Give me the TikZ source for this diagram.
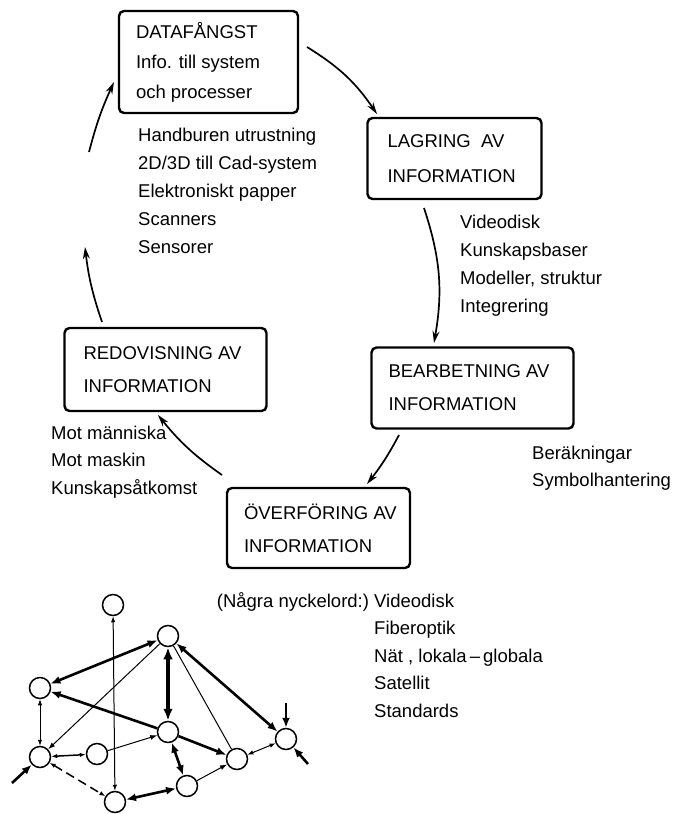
\documentclass[tikz,border=0pt]{standalone}
\usepackage{fontspec}
\setmainfont{Liberation Sans}
\usetikzlibrary{arrows.meta}
\begin{document}
\begin{tikzpicture}[x=1pt,y=-1pt,
  cbox/.style={draw, line width=2.4pt, rounded corners=5pt, inner sep=0pt},
  txt/.style={align=left, inner sep=0pt, anchor=west, font=\fontsize{18.5}{28}\selectfont},
  cyc/.style={line width=1.7pt, -{Stealth[length=12pt,width=7pt]}},
  nd/.style={circle, draw, line width=1.5pt, minimum size=21pt, inner sep=0pt},
  ewthin/.style={line width=1pt},
  ewmid/.style={line width=1.5pt},
  ewbig/.style={line width=2.6pt},
  ewhuge/.style={line width=3.4pt},
  sboth/.style={{Latex[length=6pt,width=4.5pt]}-{Latex[length=6pt,width=4.5pt]}},
  sone/.style={-{Latex[length=7pt,width=5pt]}},
  bboth/.style={{Latex[length=10pt,width=8pt]}-{Latex[length=10pt,width=8pt]}},
  bone/.style={-{Latex[length=10pt,width=8pt]}},
  hboth/.style={{Latex[length=12pt,width=9.5pt]}-{Latex[length=12pt,width=9.5pt]}}
]
\useasboundingbox (0,0) rectangle (678,814);
\fill[white] (0,0) rectangle (678,814);

% ---- boxes
\node[cbox, minimum width=179pt, minimum height=102pt] (dat) at (208.5,62) {};
\node[cbox, minimum width=174pt, minimum height=81pt] (lag) at (454.5,158.5) {};
\node[cbox, minimum width=202pt, minimum height=83pt] (red) at (165.5,369.5) {};
\node[cbox, minimum width=202pt, minimum height=81pt] (bea) at (472.5,388) {};
\node[cbox, minimum width=183pt, minimum height=80pt] (ove) at (318.5,528) {};

\node[txt, font=\fontsize{18.5}{30}\selectfont] (datt) at ([xshift=18pt]dat.west) {DATAFÅNGST\\Info. till system\\och processer};
\node[txt, font=\fontsize{18.5}{35}\selectfont] (lagt) at ([xshift=21pt]lag.west) {LAGRING\ \ AV\\INFORMATION};
\node[txt, font=\fontsize{18.5}{33}\selectfont] (redt) at ([xshift=20pt]red.west) {REDOVISNING AV\\INFORMATION};
\node[txt, font=\fontsize{18.5}{33}\selectfont] (beat) at ([xshift=18pt]bea.west) {BEARBETNING AV\\INFORMATION};
\node[txt, font=\fontsize{18.5}{33}\selectfont] (ovet) at ([xshift=18pt]ove.west) {ÖVERFÖRING AV\\INFORMATION};

% ---- lists
\node[txt] (hand) at (138,191) {Handburen utrustning\\2D/3D till Cad-system\\Elektroniskt papper\\Scanners\\Sensorer};
\node[txt] (kun) at (460,266) {Videodisk\\Kunskapsbaser\\Modeller, struktur\\Integrering};
\node[txt, font=\fontsize{18.5}{27.5}\selectfont] (mot) at (51,462) {Mot människa\\Mot maskin\\Kunskapsåtkomst};
\node[txt, font=\fontsize{18.5}{27}\selectfont] (ber) at (532,468) {Beräkningar\\Symbolhantering};
\node[txt, font=\fontsize{18.5}{27.5}\selectfont] (vid) at (374,655) {\llap{(Några nyckelord:)\ }Videodisk\\Fiberoptik\\Nät , lokala\,–\,globala\\Satellit\\Standards};

% ---- cycle arrows
\coordinate (a1s) at (307,47);   \coordinate (a1e) at (377,114);
\coordinate (a2s) at (424,208);  \coordinate (a2e) at (434,343);
\coordinate (a3s) at (399,435);  \coordinate (a3e) at (367,484);
\coordinate (a4s) at (222,475);  \coordinate (a4e) at (158,415);
\coordinate (a5s) at (102,322);  \coordinate (a5e) at (85,247);
\coordinate (a6s) at (89,152);   \coordinate (a6e) at (114,82);
\draw[cyc] (a1s) to[bend left=12] (a1e);
\draw[cyc] (a2s) to[bend left=14] (a2e);
\draw[cyc] (a3s) to[bend left=5] (a3e);
\draw[cyc] (a4s) to[bend left=8] (a4e);
\draw[cyc] (a5s) to[bend left=6] (a5e);
\draw[cyc] (a6s) to[bend left=5] (a6e);

% ---- network
\node[nd] (A) at (113,605) {};
\node[nd] (B) at (168,636) {};
\node[nd] (C) at (40,688) {};
\node[nd] (D) at (40,757) {};
\node[nd] (E) at (97,754) {};
\node[nd] (F) at (168,732) {};
\node[nd] (G) at (237,759) {};
\node[nd] (H) at (286,739) {};
\node[nd] (I) at (187,786) {};
\node[nd] (J) at (115,802) {};

\draw[ewthin, sboth] (A) -- (J);
\draw[ewbig, bboth] (B) -- (C);
\draw[ewthin, sone] (B) -- (D);
\draw[ewhuge, hboth] (B) -- (F);
\draw[ewthin] (B) -- (G);
\draw[ewbig, bboth] (B) -- (H);
\draw[ewbig, bone] (F) -- (C);
\draw[ewthin, sboth] (C) -- (D);
\draw[ewmid, sboth] (D) -- (E);
\draw[ewthin, sone] (E) -- (F);
\draw[ewbig, bone] (F) -- (G);
\draw[ewbig, bboth] (F) -- (I);
\draw[ewmid, sboth, dash pattern=on 9pt off 5pt] (D) -- (J);
\draw[ewbig, bboth] (J) -- (I);
\draw[ewthin, sone] (I) -- (G);
\draw[ewthin, sboth] (G) -- (H);

\coordinate (hx1) at (286,703);
\coordinate (hx2) at (308,764);
\coordinate (dx) at (12,783);
\draw[ewbig, bone] (hx1) -- (H);
\draw[ewbig, bone] (hx2) -- (H);
\draw[ewbig, bone] (dx) -- (D);
\end{tikzpicture}
\end{document}
